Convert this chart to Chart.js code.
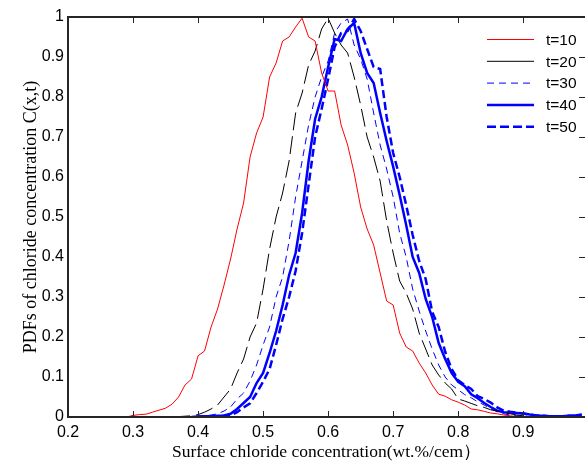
<!DOCTYPE html>
<html>
<head>
<meta charset="utf-8">
<script src="https://cdn.jsdelivr.net/npm/chart.js@4.4.1/dist/chart.umd.min.js"></script>
<style>
    html, body { margin: 0; padding: 0; background: #fff; }
</style>
</head>
<body>
<canvas id="pdfChart" width="585" height="463"></canvas>
<script>
// concentration grid (wt.%/cem)
const xValues = [
    0.28, 0.29, 0.30, 0.31, 0.32, 0.33, 0.34, 0.35, 0.36, 0.37, 0.38, 0.39,
    0.40, 0.41, 0.42, 0.43, 0.44, 0.45, 0.46, 0.47, 0.48, 0.49, 0.50, 0.51,
    0.52, 0.53, 0.54, 0.55, 0.56, 0.57, 0.58, 0.59, 0.60, 0.61, 0.62, 0.63,
    0.64, 0.65, 0.66, 0.67, 0.68, 0.69, 0.70, 0.71, 0.72, 0.73, 0.74, 0.75,
    0.76, 0.77, 0.78, 0.79, 0.80, 0.81, 0.82, 0.83, 0.84, 0.85, 0.86, 0.87,
    0.88, 0.89, 0.90, 0.91, 0.92, 0.93, 0.94, 0.95, 0.96, 0.97, 0.98, 0.99
];

const seriesLabels = ['t=10', 't=20', 't=30', 't=40', 't=50'];

const pdfT10 = [
    null, 0, 0.004, 0.006, 0.007, 0.012, 0.017, 0.022, 0.032, 0.05, 0.08, 0.095,
    0.153, 0.165, 0.225, 0.27, 0.33, 0.395, 0.47, 0.535, 0.65, 0.71, 0.75, 0.85,
    0.885, 0.94, 0.95, 0.975, 0.997, 0.95, 0.94, 0.86, 0.815, 0.815, 0.73, 0.68,
    0.61, 0.525, 0.47, 0.43, 0.36, 0.29, 0.28, 0.21, 0.175, 0.165, 0.135, 0.11,
    0.08, 0.057, 0.052, 0.043, 0.037, 0.03, 0.02, 0.018, 0.014, 0.01, 0.008, 0.005,
    0.003, 0.001, 0, null, null, null, null, null, null, null, null, null
];
const pdfT20 = [
    null, null, null, null, null, null, null, null, 0, 0.001, 0.002, 0.003,
    0.006, 0.012, 0.02, 0.03, 0.05, 0.07, 0.11, 0.145, 0.2, 0.235, 0.32, 0.42,
    0.50, 0.56, 0.64, 0.76, 0.81, 0.88, 0.915, 0.97, 0.997, 0.96, 0.93, 0.91,
    0.85, 0.78, 0.70, 0.65, 0.59, 0.49, 0.41, 0.34, 0.31, 0.27, 0.21, 0.17,
    0.13, 0.105, 0.085, 0.07, 0.045, 0.04, 0.034, 0.028, 0.024, 0.018, 0.015, 0.011,
    0.008, 0.005, 0.003, 0.001, 0, null, null, null, null, null, null, null
];
const pdfT30 = [
    null, null, null, null, null, null, null, null, null, null, 0, 0.001,
    0.002, 0.003, 0.005, 0.008, 0.015, 0.025, 0.045, 0.06, 0.09, 0.13, 0.18, 0.225,
    0.30, 0.35, 0.44, 0.55, 0.64, 0.73, 0.80, 0.85, 0.89, 0.96, 0.985, 0.995,
    0.93, 0.895, 0.845, 0.76, 0.68, 0.62, 0.55, 0.46, 0.40, 0.32, 0.265, 0.215,
    0.17, 0.13, 0.10, 0.08, 0.068, 0.056, 0.048, 0.038, 0.03, 0.02, 0.013, 0.008,
    0.005, 0.003, 0.002, 0.001, 0, null, null, null, null, null, null, null
];
const pdfT40 = [
    null, null, null, null, null, null, null, null, null, null, null, 0,
    0.001, 0.002, 0.002, 0.003, 0.004, 0.008, 0.02, 0.035, 0.05, 0.085, 0.11, 0.16,
    0.215, 0.28, 0.355, 0.41, 0.51, 0.64, 0.745, 0.80, 0.875, 0.945, 0.94, 0.97,
    0.985, 0.91, 0.86, 0.835, 0.76, 0.69, 0.626, 0.555, 0.48, 0.40, 0.36, 0.295,
    0.25, 0.185, 0.145, 0.11, 0.088, 0.077, 0.057, 0.047, 0.035, 0.025, 0.016, 0.012,
    0.011, 0.01, 0.009, 0.006, 0.004, 0.003, 0.002, 0.002, 0.002, 0.003, 0.004, 0.006
];
const pdfT50 = [
    null, null, null, null, null, null, null, null, null, null, null, null,
    0, 0.001, 0.001, 0.002, 0.003, 0.004, 0.012, 0.024, 0.034, 0.06, 0.088, 0.12,
    0.18, 0.245, 0.30, 0.365, 0.46, 0.58, 0.70, 0.77, 0.845, 0.925, 0.96, 0.965,
    0.995, 0.965, 0.92, 0.875, 0.87, 0.75, 0.66, 0.60, 0.53, 0.455, 0.39, 0.345,
    0.263, 0.225, 0.163, 0.12, 0.092, 0.08, 0.07, 0.052, 0.045, 0.036, 0.024, 0.016,
    0.013, 0.011, 0.009, 0.006, 0.004, 0.003, 0.002, 0.002, 0.002, 0.003, 0.003, 0.005
];

const xTicks = [0.2, 0.3, 0.4, 0.5, 0.6, 0.7, 0.8, 0.9];
const yTicks = [0, 0.1, 0.2, 0.3, 0.4, 0.5, 0.6, 0.7, 0.8, 0.9, 1];

function toPoints(values) {
    return xValues.map((x, i) => ({ x: x, y: values[i] }));
}

// MATLAB style box: inward ticks, top line
const axesBox = {
    id: 'axesBox',
    afterDraw(chart) {
        const ctx = chart.ctx;
        const area = chart.chartArea;
        const xs = chart.scales.x;
        const ys = chart.scales.y;
        ctx.save();
        ctx.strokeStyle = '#262626';
        ctx.lineWidth = 2;
        ctx.beginPath();
        ctx.moveTo(area.left, area.top);
        ctx.lineTo(area.right, area.top);
        ctx.moveTo(area.left, area.top - 1);
        ctx.lineTo(area.left, area.bottom + 1);
        ctx.moveTo(area.left - 1, area.bottom);
        ctx.lineTo(area.right, area.bottom);
        ctx.stroke();
        ctx.lineWidth = 1;
        ctx.beginPath();
        xTicks.forEach(v => {
            const px = Math.round(xs.getPixelForValue(v)) + 0.5;
            ctx.moveTo(px, area.bottom);
            ctx.lineTo(px, area.bottom - 6);
            ctx.moveTo(px, area.top);
            ctx.lineTo(px, area.top + 6);
        });
        yTicks.forEach(v => {
            const py = Math.round(ys.getPixelForValue(v)) + 0.5;
            ctx.moveTo(area.right, py);
            ctx.lineTo(area.right - 6, py);
        });
        ctx.stroke();
        ctx.restore();
    }
};

// legend drawn inside the plot, top right
const legendBox = {
    id: 'legendBox',
    afterDraw(chart) {
        const ctx = chart.ctx;
        const area = chart.chartArea;
        chart.data.datasets.forEach((ds, i) => {
            const y = area.top + 22.5 + i * 21.8;
            const x0 = area.right - 98;
            ctx.save();
            ctx.strokeStyle = ds.borderColor;
            ctx.lineWidth = ds.borderWidth;
            ctx.setLineDash(ds.legendDash);
            ctx.beginPath();
            ctx.moveTo(x0, y);
            ctx.lineTo(x0 + 47, y);
            ctx.stroke();
            ctx.setLineDash([]);
            ctx.fillStyle = '#000';
            ctx.font = '15.5px "Liberation Sans", Arial, sans-serif';
            ctx.textBaseline = 'middle';
            ctx.fillText(ds.label, x0 + 59, y + 1);
            ctx.restore();
        });
    }
};

const ctx = document.getElementById('pdfChart').getContext('2d');
new Chart(ctx, {
    type: 'line',
    data: {
        datasets: [
            {
                label: seriesLabels[0],
                data: toPoints(pdfT10),
                borderColor: '#ff0000',
                borderWidth: 1,
                borderDash: [],
                legendDash: []
            },
            {
                label: seriesLabels[1],
                data: toPoints(pdfT20),
                borderColor: '#000000',
                borderWidth: 1,
                borderDash: [18, 6],
                legendDash: []
            },
            {
                label: seriesLabels[2],
                data: toPoints(pdfT30),
                borderColor: '#0000ff',
                borderWidth: 1,
                borderDash: [7, 5],
                legendDash: [7, 5]
            },
            {
                label: seriesLabels[3],
                data: toPoints(pdfT40),
                borderColor: '#0000ff',
                borderWidth: 2.5,
                borderDash: [],
                legendDash: []
            },
            {
                label: seriesLabels[4],
                data: toPoints(pdfT50),
                borderColor: '#0000ff',
                borderWidth: 2.5,
                borderDash: [8, 4],
                legendDash: [9, 4]
            }
        ]
    },
    options: {
        responsive: false,
        animation: false,
        devicePixelRatio: 1,
        layout: {
            padding: { left: 0, right: 0, top: 17, bottom: 0 }
        },
        elements: {
            point: { radius: 0 },
            line: { tension: 0, fill: false }
        },
        plugins: {
            legend: { display: false },
            tooltip: { enabled: false }
        },
        scales: {
            x: {
                type: 'linear',
                min: 0.2,
                max: 0.995,
                grid: { display: false, drawTicks: false },
                border: { display: false },
                afterBuildTicks: scale => { scale.ticks = xTicks.map(v => ({ value: v })); },
                afterFit: scale => { scale.height = 46; },
                ticks: {
                    padding: 6,
                    color: '#000',
                    font: { family: '"Liberation Sans", Arial, sans-serif', size: 16 },
                    callback: v => String(+v.toFixed(1))
                },
                title: {
                    display: true,
                    text: 'Surface chloride concentration(wt.%/cem）',
                    color: '#000',
                    font: { family: '"Liberation Serif", "Times New Roman", serif', size: 17.5 },
                    padding: { top: 0, bottom: 0 }
                }
            },
            y: {
                min: 0,
                max: 1,
                grid: { display: false, drawTicks: false },
                border: { display: false },
                afterBuildTicks: scale => { scale.ticks = yTicks.map(v => ({ value: v })); },
                afterFit: scale => { scale.width = 68; },
                ticks: {
                    padding: 4,
                    color: '#000',
                    font: { family: '"Liberation Sans", Arial, sans-serif', size: 16 },
                    callback: v => String(+v.toFixed(1))
                },
                title: {
                    display: true,
                    text: 'PDFs of chloride concentration C(x,t)',
                    color: '#000',
                    font: { family: '"Liberation Serif", "Times New Roman", serif', size: 18 },
                    padding: { top: 20, bottom: 0 }
                }
            }
        }
    },
    plugins: [axesBox, legendBox]
});
</script>
</body>
</html>
